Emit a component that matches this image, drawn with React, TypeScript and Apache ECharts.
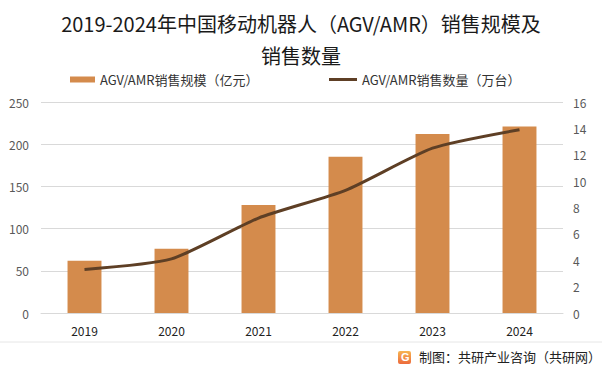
import React, { useEffect, useRef } from "react";
import * as echarts from "echarts";

const years = ["2019", "2020", "2021", "2022", "2023", "2024"];
const salesValue = [62, 76, 128, 185, 212, 221];
const salesVolume = [3.3, 4.1, 7.2, 9.3, 12.5, 13.9];
const titleText = "2019-2024年中国移动机器人（AGV/AMR）销售规模及\n销售数量";
const barName = "AGV/AMR销售规模（亿元）";
const lineName = "AGV/AMR销售数量（万台）";
const sourceText = "制图：共研产业咨询（共研网）";

const FONT = "'Noto Sans CJK SC', 'Noto Sans', sans-serif";

export default function App() {
  const ref = useRef<HTMLDivElement>(null);
  useEffect(() => {
    const chart = echarts.init(ref.current!, null, { renderer: "svg" });
    const legendCommon = {
      top: 73,
      padding: 0,
      itemHeight: 6,
      textStyle: { fontSize: 13, color: "#333", fontFamily: FONT },
    };
    chart.setOption({
      animation: false,
      backgroundColor: "#ffffff",
      textStyle: { fontFamily: FONT },
      title: {
        text: titleText,
        left: "center",
        top: 2,
        textStyle: {
          fontSize: 20,
          fontWeight: "normal",
          color: "#1a1a1a",
          lineHeight: 32,
          fontFamily: FONT,
        },
      },
      legend: [
        {
          ...legendCommon,
          left: 70,
          itemWidth: 25,
          data: [{ name: barName, icon: "rect" }],
        },
        {
          ...legendCommon,
          left: 329,
          itemWidth: 28,
          data: [{ name: lineName, icon: "path://M0,0 L28,0 L28,3 L0,3 Z" }],
        },
      ],
      grid: { left: 41, right: 39, top: 102, bottom: 62 },
      xAxis: {
        type: "category",
        data: years,
        axisTick: { show: false },
        axisLine: { lineStyle: { color: "#d9d9d9" } },
        axisLabel: { color: "#222", fontSize: 12, margin: 11 },
      },
      yAxis: [
        {
          type: "value",
          min: 0,
          max: 250,
          interval: 50,
          axisLabel: { color: "#595959", fontSize: 12, margin: 12 },
          splitLine: { lineStyle: { color: "#d9d9d9" } },
          axisLine: { show: false },
          axisTick: { show: false },
        },
        {
          type: "value",
          min: 0,
          max: 16,
          interval: 2,
          axisLabel: { color: "#595959", fontSize: 12, margin: 10 },
          splitLine: { show: false },
          axisLine: { show: false },
          axisTick: { show: false },
        },
      ],
      series: [
        {
          name: barName,
          type: "bar",
          data: salesValue,
          barWidth: "39%",
          itemStyle: { color: "#D48B4C" },
        },
        {
          name: lineName,
          type: "line",
          yAxisIndex: 1,
          data: salesVolume,
          smooth: 0.2,
          symbol: "none",
          lineStyle: { color: "#5E3F25", width: 3 },
          itemStyle: { color: "#5E3F25" },
        },
      ],
      graphic: [
        {
          type: "line",
          shape: { x1: 0, y1: 342, x2: 602, y2: 342 },
          style: { stroke: "#e6e6e6", lineWidth: 1 },
        },
        {
          type: "rect",
          shape: { x: 398, y: 351, width: 13, height: 13, r: 2 },
          style: {
            fill: new echarts.graphic.LinearGradient(0, 0, 0, 1, [
              { offset: 0, color: "#F7B552" },
              { offset: 1, color: "#EC6A3C" },
            ]),
          },
        },
        {
          type: "text",
          x: 401,
          y: 351,
          style: { text: "G", fill: "#ffffff", font: "bold 11px sans-serif" },
        },
        {
          type: "text",
          x: 419,
          y: 350,
          style: {
            text: sourceText,
            fill: "#222",
            font: "13px 'Noto Sans CJK SC', sans-serif",
          },
        },
      ],
    });
    return () => chart.dispose();
  }, []);
  return <div ref={ref} style={{ width: 602, height: 375, position: "absolute", left: 0, top: 0 }} />;
}
